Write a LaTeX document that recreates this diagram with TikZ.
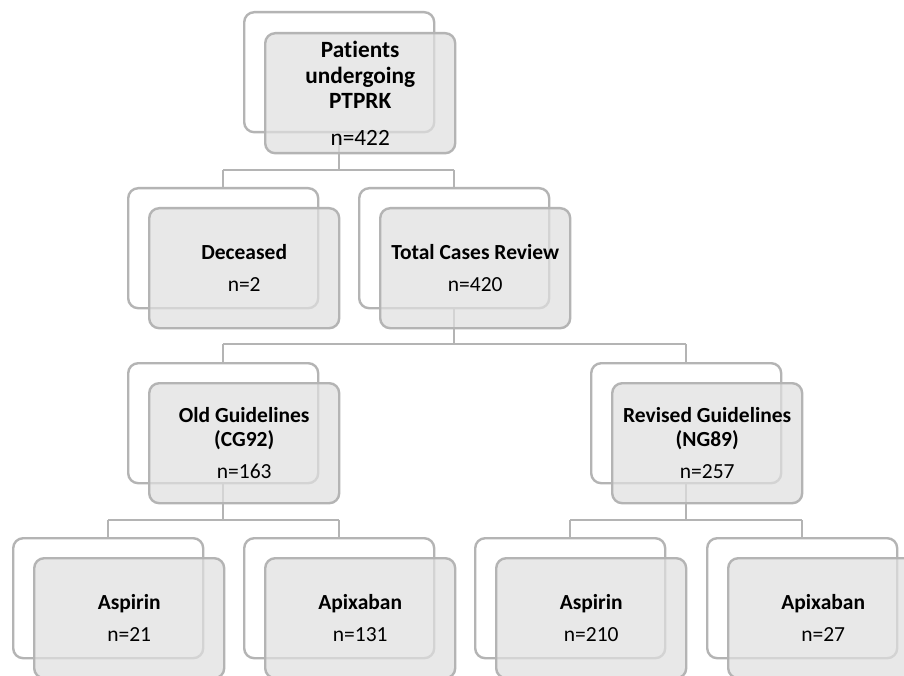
\documentclass[tikz,border=0pt]{standalone}
\usepackage{fontspec}
\setmainfont{Carlito}[Ligatures=NoCommon]
\definecolor{lineg}{HTML}{B4B4B4}
\definecolor{frontg}{HTML}{E0E0E0}
\begin{document}
\begin{tikzpicture}[x=1pt,y=-1pt,
  backbox/.style={draw=lineg, line width=2.4pt, fill=white, rounded corners=10pt,
    minimum width=190pt, minimum height=120pt, inner sep=0pt, anchor=north west},
  frontbox/.style={draw=lineg, line width=2.4pt, fill=frontg, fill opacity=0.72, text opacity=1,
    rounded corners=10pt, minimum width=190pt, minimum height=120pt, inner sep=0pt,
    anchor=north west, align=center, font=\fontsize{21.5}{24}\selectfont},
  topfont/.style={font=\fontsize{23.3}{25.5}\selectfont},
  conn/.style={draw=lineg, line width=2.2pt}]
\clip (0,0) rectangle (904,676);
\fill[white] (0,0) rectangle (904,676);
% back boxes
\node[backbox] (b1) at (243,11) {};
\node[backbox] (b2) at (127,187) {};
\node[backbox] (b3) at (358,187) {};
\node[backbox] (b4) at (127,362) {};
\node[backbox] (b5) at (590,362) {};
\node[backbox] (b6) at (12,537) {};
\node[backbox] (b7) at (243,537) {};
\node[backbox] (b8) at (474,537) {};
\node[backbox] (b9) at (706,537) {};
% connector levels
\coordinate (h1) at (0,170);
\coordinate (h2) at (0,344);
\coordinate (h3) at (0,520);
\draw[conn] (b1.south) -- (b1.south |- h1);
\draw[conn] (b2.north |- h1) -- (b3.north |- h1);
\draw[conn] (b2.north |- h1) -- (b2.north);
\draw[conn] (b3.north |- h1) -- (b3.north);
\draw[conn] (b3.south) -- (b3.south |- h2);
\draw[conn] (b4.north |- h2) -- (b5.north |- h2);
\draw[conn] (b4.north |- h2) -- (b4.north);
\draw[conn] (b5.north |- h2) -- (b5.north);
\draw[conn] (b4.south) -- (b4.south |- h3);
\draw[conn] (b6.north |- h3) -- (b7.north |- h3);
\draw[conn] (b6.north |- h3) -- (b6.north);
\draw[conn] (b7.north |- h3) -- (b7.north);
\draw[conn] (b5.south) -- (b5.south |- h3);
\draw[conn] (b8.north |- h3) -- (b9.north |- h3);
\draw[conn] (b8.north |- h3) -- (b8.north);
\draw[conn] (b9.north |- h3) -- (b9.north);
% front boxes
\node[frontbox,topfont] (f1) at ([shift={(21,21)}]b1.north west) {\textbf{Patients}\\\textbf{undergoing}\\\textbf{PTPRK}\\[11pt]n=422};
\node[frontbox] (f2) at ([shift={(21,20)}]b2.north west) {\textbf{Deceased}\\[8pt]n=2};
\node[frontbox] (f3) at ([shift={(21,20)}]b3.north west) {\textbf{Total Cases Review}\\[8pt]n=420};
\node[frontbox] (f4) at ([shift={(21,20)}]b4.north west) {\textbf{Old Guidelines}\\\textbf{(CG92)}\\[8pt]n=163};
\node[frontbox] (f5) at ([shift={(21,20)}]b5.north west) {\textbf{Revised Guidelines}\\\textbf{(NG89)}\\[8pt]n=257};
\node[frontbox] (f6) at ([shift={(21,20)}]b6.north west) {\textbf{Aspirin}\\[8pt]n=21};
\node[frontbox] (f7) at ([shift={(21,20)}]b7.north west) {\textbf{Apixaban}\\[8pt]n=131};
\node[frontbox] (f8) at ([shift={(21,20)}]b8.north west) {\textbf{Aspirin}\\[8pt]n=210};
\node[frontbox] (f9) at ([shift={(21,20)}]b9.north west) {\textbf{Apixaban}\\[8pt]n=27};
\end{tikzpicture}
\end{document}
